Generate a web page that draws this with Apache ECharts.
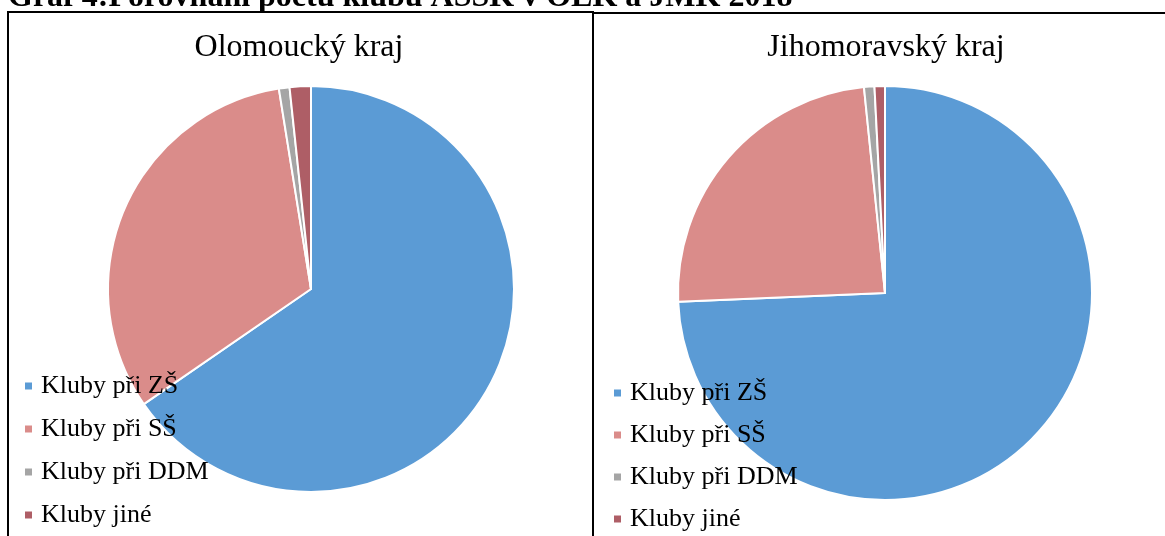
<!DOCTYPE html>
<html>
<head>
<meta charset="utf-8">
<script src="https://cdn.jsdelivr.net/npm/echarts@6/dist/echarts.min.js"></script>
<style>
html,body{margin:0;padding:0;background:#fff;}
#chart{width:1165px;height:536px;}
</style>
</head>
<body>
<div id="chart"></div>
<script>
const pageTitle = 'Graf 4:Porovnání počtu klubů AŠSK v OLK a JMK 2018';
const categories = ['Kluby při ZŠ', 'Kluby při SŠ', 'Kluby při DDM', 'Kluby jiné'];
const regionNames = ['Olomoucký kraj', 'Jihomoravský kraj'];
const olkValues = [155, 76, 2, 4];
const jmkValues = [275, 89, 3, 3];
const colors = ['#5B9BD5', '#DA8C8A', '#A5A5A5', '#AE5E66'];

const chart = echarts.init(document.getElementById('chart'));
const serif = '"Liberation Serif", "Times New Roman", serif';

function pieData(vals) {
  return categories.map((c, i) => ({ name: c, value: vals[i] }));
}

const legendBase = {
  orient: 'vertical',
  icon: 'rect',
  itemWidth: 9,
  itemHeight: 9,
  height: 200,
  selectedMode: false,
  textStyle: { fontFamily: serif, fontSize: 26, color: '#000', padding: [0, 0, 0, 3] },
  data: categories
};

chart.setOption({
  animation: false,
  color: colors,
  title: [
    { text: regionNames[0], left: 294, top: 27, textAlign: 'center',
      textStyle: { fontFamily: serif, fontSize: 32, fontWeight: 'normal', color: '#000' } },
    { text: regionNames[1], left: 881, top: 27, textAlign: 'center',
      textStyle: { fontFamily: serif, fontSize: 32, fontWeight: 'normal', color: '#000' } }
  ],
  legend: [
    Object.assign({}, legendBase, { left: 18, top: 368, itemGap: 17 }),
    Object.assign({}, legendBase, { left: 607, top: 375, itemGap: 16 })
  ],
  graphic: [
    { type: 'rect', shape: { x: 8, y: 12, width: 585, height: 540 },
      style: { fill: 'none', stroke: '#000', lineWidth: 2 }, z: 10 },
    { type: 'rect', shape: { x: 593, y: 13, width: 590, height: 540 },
      style: { fill: 'none', stroke: '#000', lineWidth: 2 }, z: 10 },
    { type: 'text', x: 8, y: 14,
      style: { text: pageTitle, font: 'bold 32px ' + serif, fill: '#000', textVerticalAlign: 'bottom' } }
  ],
  series: [
    { type: 'pie', center: [311, 289], radius: 203, startAngle: 90, clockwise: true,
      label: { show: false }, labelLine: { show: false },
      itemStyle: { borderColor: '#fff', borderWidth: 2 },
      emphasis: { disabled: true },
      data: pieData(olkValues) },
    { type: 'pie', center: [885, 293], radius: 207, startAngle: 90, clockwise: true,
      label: { show: false }, labelLine: { show: false },
      itemStyle: { borderColor: '#fff', borderWidth: 2 },
      emphasis: { disabled: true },
      data: pieData(jmkValues) }
  ]
});
</script>
</body>
</html>
